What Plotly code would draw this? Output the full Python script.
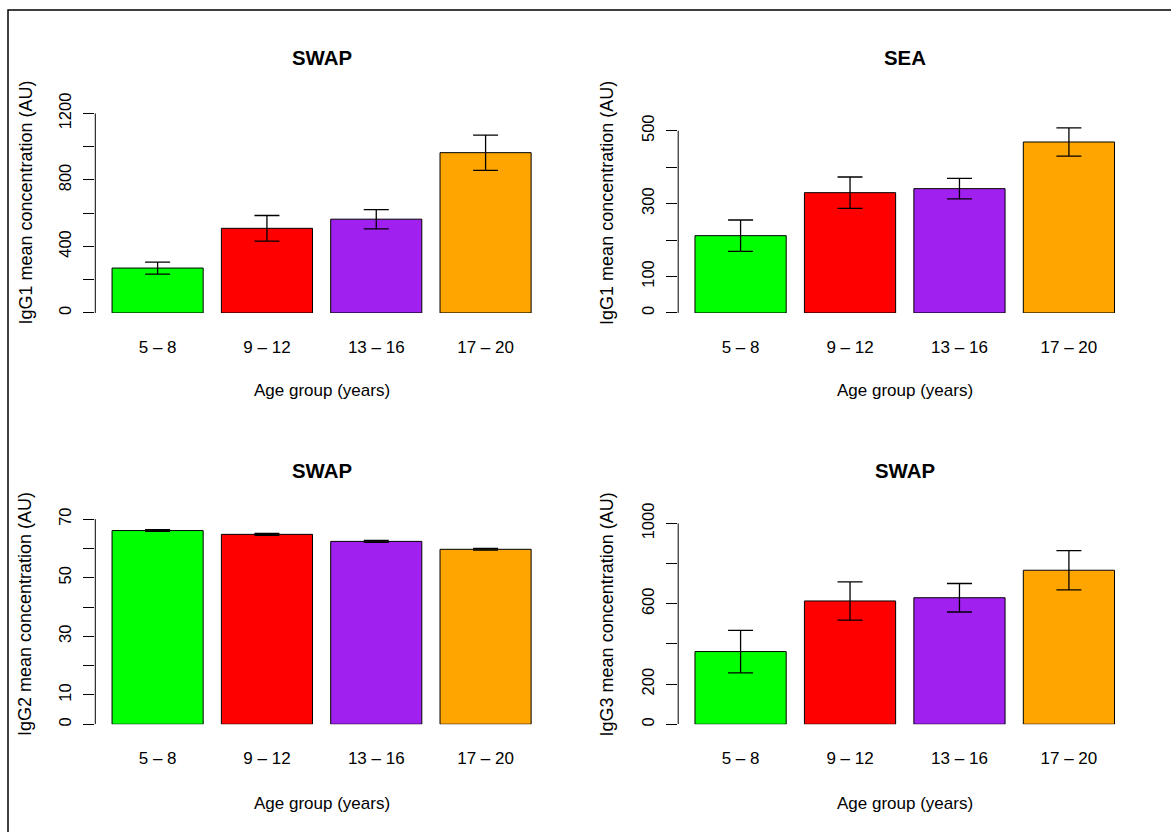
import plotly.graph_objects as go

W, H = 1171, 832

age_groups = ["5 – 8", "9 – 12", "13 – 16", "17 – 20"]
bar_colors = ["#00FF00", "#FF0000", "#A020F0", "#FFA500"]

# Panel data (mean, error half-width)
igg1_swap_mean = [270, 509, 564, 964]
igg1_swap_err = [36, 77, 58, 106]
igg1_sea_mean = [212, 330, 341, 469]
igg1_sea_err = [43, 43, 28, 39]
igg2_swap_mean = [66.1, 64.8, 62.4, 59.7]
igg2_swap_err = [0.3, 0.3, 0.3, 0.3]
igg3_swap_mean = [362, 614, 630, 767]
igg3_swap_err = [106, 95, 71, 98]

titles = ["SWAP", "SEA", "SWAP", "SWAP"]
ylabels = ["IgG1 mean concentration (AU)", "IgG1 mean concentration (AU)",
           "IgG2 mean concentration (AU)", "IgG3 mean concentration (AU)"]
xlabel = "Age group (years)"

ytick_vals = [
    [0, 200, 400, 600, 800, 1000, 1200],
    [0, 100, 200, 300, 400, 500],
    [0, 10, 20, 30, 40, 50, 60, 70],
    [0, 200, 400, 600, 800, 1000],
]
ytick_text = [
    ["0", "", "400", "", "800", "", "1200"],
    ["0", "100", "", "300", "", "500"],
    ["0", "10", "", "30", "", "50", "", "70"],
    ["0", "200", "", "600", "", "1000"],
]
y_upper = [1381.8, 630.3, 78.4, 1144.1]

means = [igg1_swap_mean, igg1_sea_mean, igg2_swap_mean, igg3_swap_mean]
errs = [igg1_swap_err, igg1_sea_err, igg2_swap_err, igg3_swap_err]

FONT = "Liberation Sans, Arial, Helvetica, sans-serif"

# pixel layout
col_x = [(95.3, 547.9), (678.2, 1131.3)]
row_y = [(313.7, 83.4), (726.0, 495.7)]  # (bottom, top)

def px(x):
    return x / W

def py(y):
    return 1 - y / H

fig = go.Figure()
annotations = []
shapes = []

for i in range(4):
    r, c = divmod(i, 2)
    xa = "x" if i == 0 else f"x{i+1}"
    ya = "y" if i == 0 else f"y{i+1}"
    fig.add_trace(go.Bar(
        x=age_groups, y=means[i],
        marker=dict(color=bar_colors, line=dict(color="black", width=1)),
        error_y=dict(type="data", array=errs[i], visible=True,
                     color="black", thickness=1.3, width=12.5),
        xaxis=xa, yaxis=ya, showlegend=False,
    ))
    x0, x1 = col_x[c]
    yb, yt = row_y[r]
    xkey = "xaxis" if i == 0 else f"xaxis{i+1}"
    ykey = "yaxis" if i == 0 else f"yaxis{i+1}"
    fig.update_layout(**{
        xkey: dict(domain=[px(x0), px(x1)], anchor=ya, type="category",
                   range=[-0.57, 3.57], showline=False, showgrid=False,
                   zeroline=False, ticks="", ticklabelstandoff=22,
                   tickfont=dict(family=FONT, size=17, color="black"),
                   fixedrange=True),
        ykey: dict(domain=[py(yb), py(yt)], anchor=xa, range=[0, y_upper[i]],
                   showline=False, showgrid=False, zeroline=False,
                   ticks="outside", ticklen=11, tickwidth=1, tickcolor="black",
                   tickvals=ytick_vals[i], ticktext=ytick_text[i],
                   tickangle=-90, ticklabelstandoff=6,
                   tickfont=dict(family=FONT, size=16.5, color="black"),
                   fixedrange=True),
    })
    # y axis line from first to last tick
    shapes.append(dict(type="line", xref=f"{xa} domain", yref=ya,
                       x0=0, x1=0, y0=ytick_vals[i][0], y1=ytick_vals[i][-1],
                       line=dict(color="black", width=1)))
    cx = (x0 + x1) / 2
    # panel title
    annotations.append(dict(text=f"<b>{titles[i]}</b>", xref="paper", yref="paper",
                            x=px(cx), y=py(58.3 + r * 413.4), xanchor="center",
                            yanchor="middle", showarrow=False,
                            font=dict(family=FONT, size=20.4, color="black")))
    # x axis title
    annotations.append(dict(text=xlabel, xref="paper", yref="paper",
                            x=px(cx), y=py(391.7 + r * 414.0), xanchor="center",
                            yanchor="middle", showarrow=False,
                            font=dict(family=FONT, size=17, color="black")))
    # y axis title
    annotations.append(dict(text=ylabels[i], xref="paper", yref="paper",
                            x=px(25.8 + c * 581.3), y=py(203.3 + r * 412.5),
                            xanchor="center", yanchor="middle", textangle=-90,
                            showarrow=False,
                            font=dict(family=FONT, size=18, color="black")))

# outer frame (only top and left edges visible in the picture)
shapes.append(dict(type="rect", xref="paper", yref="paper",
                   x0=px(8), x1=1.05, y0=-0.05, y1=py(10),
                   line=dict(color="black", width=1.5), layer="above"))

fig.update_layout(
    width=W, height=H,
    margin=dict(l=0, r=0, t=0, b=0),
    paper_bgcolor="white", plot_bgcolor="white",
    bargap=1/6,
    annotations=annotations, shapes=shapes,
    font=dict(family=FONT, color="black"),
)

fig.write_html("out.html", config={"displayModeBar": False})
